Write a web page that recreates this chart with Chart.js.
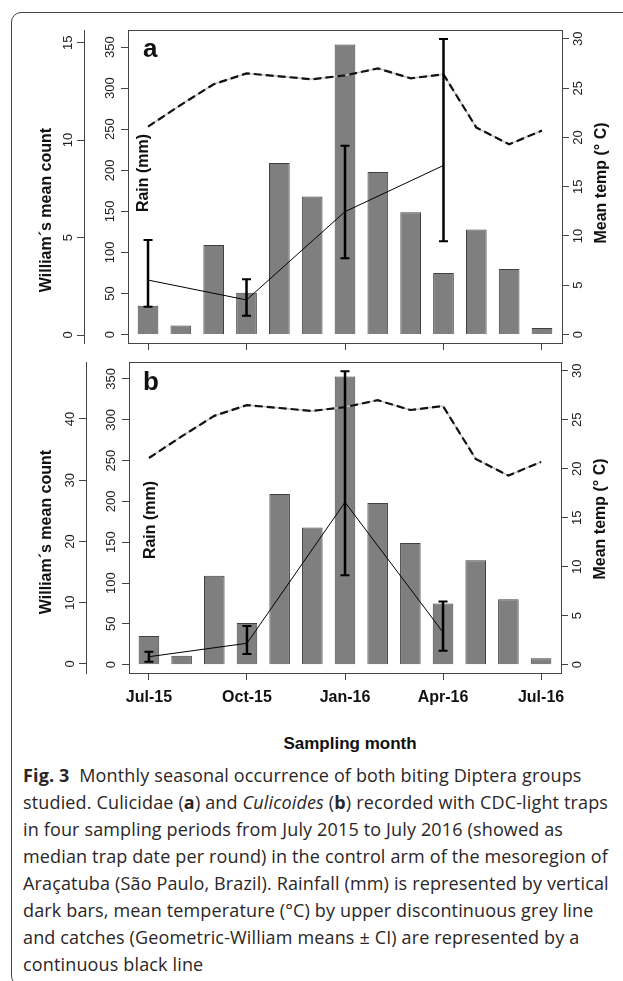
<!DOCTYPE html>
<html>
<head>
<meta charset="utf-8">
<script src="https://cdn.jsdelivr.net/npm/chart.js@4.4.1/dist/chart.umd.min.js"></script>
<style>
  body { margin: 0; background: #fff; width: 623px; height: 981px; overflow: hidden; position: relative;
         font-family: "Liberation Sans", Arial, sans-serif; }
  .frame { position: absolute; left: 11px; top: 12px; width: 700px; height: 972px;
           border: 1.3px solid #444; border-radius: 10px; }
  canvas { position: absolute; left: 0; }
  #panelA { top: 0; }
  #panelB { top: 332px; }
  .xtitle { position: absolute; left: 250px; width: 200px; top: 734px; text-align: center;
            font-weight: bold; font-size: 17px; color: #111; }
  .caption { position: absolute; left: 23px; top: 762px; font-family: "Open Sans", sans-serif;
             font-size: 18px; letter-spacing: 0.15px; line-height: 27px; color: #2a2627; white-space: nowrap; }
</style>
</head>
<body>
<div class="frame"></div>
<canvas id="panelA" width="623" height="356"></canvas>
<canvas id="panelB" width="623" height="383"></canvas>
<div class="xtitle">Sampling month</div>
<div class="caption">
  <div><b>Fig. 3</b>&nbsp; Monthly seasonal occurrence of both biting Diptera groups</div>
  <div>studied. Culicidae (<b>a</b>) and <i>Culicoides</i> (<b>b</b>) recorded with CDC-light traps</div>
  <div>in four sampling periods from July 2015 to July 2016 (showed as</div>
  <div>median trap date per round) in the control arm of the mesoregion of</div>
  <div>Araçatuba (São Paulo, Brazil). Rainfall (mm) is represented by vertical</div>
  <div>dark bars, mean temperature (°C) by upper discontinuous grey line</div>
  <div>and catches (Geometric-William means ± CI) are represented by a</div>
  <div>continuous black line</div>
</div>
<script>
// months are indexed 0 (Jul-15) .. 12 (Jul-16)
const tickMonths = [0, 3, 6, 9, 12];
const tickLabels = ['Jul-15', 'Oct-15', 'Jan-16', 'Apr-16', 'Jul-16'];

const rain = [35, 11, 109, 51, 209, 168, 353, 198, 149, 75, 128, 80, 8];
const temp = [21.1, 23.3, 25.4, 26.5, 26.2, 25.9, 26.3, 27.0, 26.0, 26.4, 21.0, 19.3, 20.7];

const sampleMonths = [0, 3, 6, 9];
const culicidaeMean = [2.82, 1.80, 6.33, 8.70];
const culicidaeLow = [1.45, 0.99, 3.94, 4.81];
const culicidaeHigh = [4.88, 2.86, 9.71, 15.19];
const culicoidesMean = [1.19, 3.38, 26.4, 5.17];
const culicoidesLow = [0.38, 1.63, 14.5, 2.17];
const culicoidesHigh = [2.0, 6.2, 47.8, 10.2];

const rainTicks = [0, 50, 100, 150, 200, 250, 300, 350];
const tempTicks = [0, 5, 10, 15, 20, 25, 30];
const culicidaeTicks = [0, 5, 10, 15];
const culicoidesTicks = [0, 10, 20, 30, 40];

Chart.defaults.font.family = '"Liberation Sans", Arial, sans-serif';
Chart.defaults.color = '#333';

const fixTicks = vals => scale => { scale.ticks = vals.map(v => ({ value: v })); };
const fixWidth = w => scale => { scale.width = w; };
const fixHeight = h => scale => { scale.height = h; };

const errorBars = {
  id: 'errorBars',
  afterDatasetsDraw(chart, args, o) {
    const { ctx, scales: { x, wm } } = chart;
    ctx.save();
    ctx.strokeStyle = '#000';
    o.low.forEach((lo, i) => {
      const px = x.getPixelForValue(sampleMonths[i]);
      const y1 = wm.getPixelForValue(lo);
      const y2 = wm.getPixelForValue(o.high[i]);
      ctx.lineWidth = 2.5;
      ctx.beginPath(); ctx.moveTo(px, y1); ctx.lineTo(px, y2); ctx.stroke();
      ctx.lineWidth = 2;
      ctx.beginPath();
      ctx.moveTo(px - 4.5, y1); ctx.lineTo(px + 4.5, y1);
      ctx.moveTo(px - 4.5, y2); ctx.lineTo(px + 4.5, y2);
      ctx.stroke();
    });
    ctx.restore();
  }
};

// R style texts: panel letter and vertical titles read bottom to top
const rLabels = {
  id: 'rLabels',
  afterDraw(chart, args, o) {
    const ctx = chart.ctx;
    ctx.save();
    ctx.fillStyle = '#111';
    ctx.textBaseline = 'alphabetic';
    ctx.font = 'bold 26px "Liberation Sans", Arial';
    ctx.textAlign = 'left';
    ctx.fillText(o.letter, 143, o.letterY);
    ctx.font = 'bold 16px "Liberation Sans", Arial';
    ctx.textAlign = 'center';
    o.titles.forEach(t => {
      ctx.save();
      ctx.translate(t.x, t.y);
      ctx.rotate(-Math.PI / 2);
      ctx.fillText(t.text, 0, 0);
      ctx.restore();
    });
    ctx.restore();
  }
};

function yAxis(pos, min, max, ticks, width, pad, weight) {
  return {
    type: 'linear', position: pos, min: min, max: max, weight: weight,
    afterBuildTicks: fixTicks(ticks), afterFit: fixWidth(width),
    ticks: { minRotation: 90, maxRotation: 90, crossAlign: 'center', padding: pad, autoSkip: false,
             font: { size: 13 }, color: '#222' },
    grid: { drawOnChartArea: false, tickLength: 7, color: '#444' },
    border: { display: true, color: '#444', width: 1 }
  };
}

function makePanel(id, p) {
  new Chart(document.getElementById(id), {
    type: 'bar',
    data: {
      datasets: [
        { type: 'line', label: 'William mean', yAxisID: 'wm', order: 0,
          data: sampleMonths.map((m, i) => ({ x: m, y: p.mean[i] })),
          borderColor: '#000', borderWidth: 1, pointRadius: 0, tension: 0 },
        { type: 'line', label: 'Mean temp', yAxisID: 'temp', order: 1,
          data: temp.map((v, i) => ({ x: i, y: v })),
          borderColor: '#111', borderWidth: 2.2, borderDash: [8, 4], pointRadius: 0, tension: 0 },
        { type: 'line', label: 'Mean temp base', yAxisID: 'temp', order: 2,
          data: temp.map((v, i) => ({ x: i, y: v })),
          borderColor: '#c4c4c4', borderWidth: 1.4, pointRadius: 0, tension: 0 },
        { type: 'bar', label: 'Rain', yAxisID: 'rain', order: 3,
          data: rain.map((v, i) => ({ x: i, y: v })),
          backgroundColor: '#7f7f7f', borderColor: '#404040', borderWidth: 1,
          barPercentage: 0.63, categoryPercentage: 1 }
      ]
    },
    options: {
      responsive: false,
      animation: false,
      layout: { padding: { top: 30, left: 0, right: 0, bottom: 0 } },
      plugins: {
        legend: { display: false },
        tooltip: { enabled: false },
        errorBars: { low: p.low, high: p.high },
        rLabels: { letter: p.letter, letterY: p.letterY, titles: p.titles }
      },
      scales: {
        x: {
          type: 'linear', position: 'bottom', min: -0.61, max: 12.61, offset: false,
          afterBuildTicks: fixTicks(tickMonths), afterFit: fixHeight(p.xHeight),
          ticks: { display: p.showX, padding: 8, autoSkip: false, maxRotation: 0,
                   font: { size: 16, weight: 'bold' }, color: '#111',
                   callback: v => tickLabels[tickMonths.indexOf(v)] },
          grid: { drawOnChartArea: false, offset: false, tickLength: 7, color: '#444' },
          border: { display: true, color: '#444', width: 1 }
        },
        xTop: {
          type: 'linear', position: 'top', min: 0, max: 1, afterFit: fixHeight(0),
          ticks: { display: false },
          grid: { drawOnChartArea: false, drawTicks: false },
          border: { display: true, color: '#444', width: 1 }
        },
        wm: yAxis('left', p.wmMin, p.wmMax, p.wmTicks, p.wmWidth, 1, 1),
        rain: yAxis('left', -10.2, 370.8, rainTicks, p.rainWidth, 0, 0),
        temp: yAxis('right', -0.86, 30.9, tempTicks, p.tempWidth, 2, 0)
      }
    },
    plugins: [errorBars, rLabels]
  });
}

makePanel('panelA', {
  mean: culicidaeMean, low: culicidaeLow, high: culicidaeHigh,
  wmTicks: culicidaeTicks, wmMin: -0.41, wmMax: 15.65,
  wmWidth: 84, rainWidth: 44, tempWidth: 61, xHeight: 13, showX: false,
  letter: 'a', letterY: 57,
  titles: [
    { text: 'William´s mean count', x: 51, y: 210 },
    { text: 'Rain (mm)', x: 147.5, y: 173 },
    { text: 'Mean temp (° C)', x: 605.5, y: 183 }
  ]
});

makePanel('panelB', {
  mean: culicoidesMean, low: culicoidesLow, high: culicoidesHigh,
  wmTicks: culicoidesTicks, wmMin: -1.47, wmMax: 49.3,
  wmWidth: 86, rainWidth: 43, tempWidth: 62, xHeight: 42, showX: true,
  letter: 'b', letterY: 58,
  titles: [
    { text: 'William´s mean count', x: 51, y: 200 },
    { text: 'Rain (mm)', x: 154.5, y: 188 },
    { text: 'Mean temp (° C)', x: 605, y: 187 }
  ]
});
</script>
</body>
</html>
